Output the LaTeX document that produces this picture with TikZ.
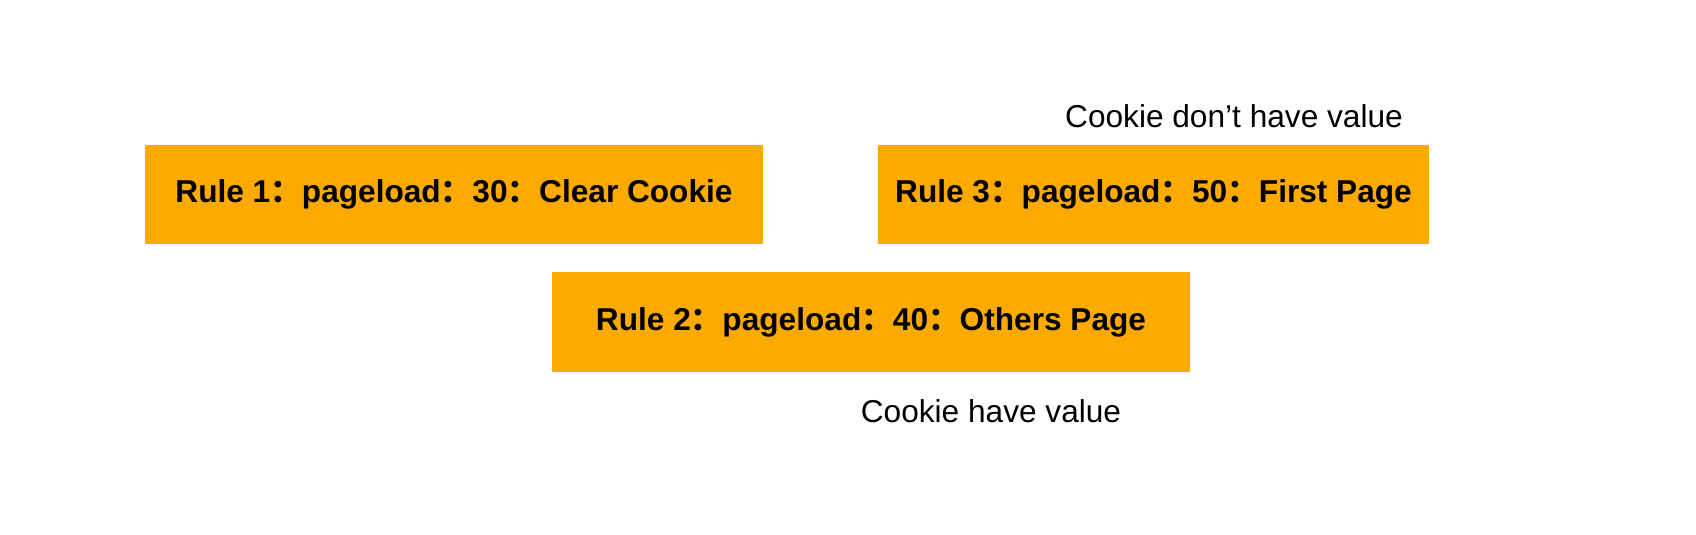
\documentclass[tikz,border=0pt]{standalone}
\usepackage{fontspec}
\setmainfont{Liberation Sans}
\newfontfamily\cjk{Noto Sans CJK SC}
\usetikzlibrary{positioning}
\newcommand{\fc}{{\cjk\bfseries ：}}
\definecolor{ruleorange}{RGB}{252,170,0}
\begin{document}
\begin{tikzpicture}[x=0.02cm,y=-0.02cm,
  rule/.style={fill=ruleorange,draw=none,inner sep=0pt,minimum height=1.99cm,
    font=\fontsize{18}{21}\selectfont\bfseries},
  note/.style={inner sep=0pt,font=\fontsize{18}{21}\selectfont}]
\useasboundingbox (0,0) rectangle (1696,534);
% rules
\node[rule,minimum width=12.36cm] (rone) at (454,194.5) {Rule 1\fc pageload\fc 30\fc Clear Cookie};
\node[rule,minimum width=11.02cm] (rthree) at (1153.5,194.5) {Rule 3\fc pageload\fc 50\fc First Page};
\node[rule,minimum width=12.76cm] (rtwo) at (871,322) {Rule 2\fc pageload\fc 40\fc Others Page};
% notes
\node[note] (nodata) at (1234,116) {Cookie don’t have value};
\node[note] (hasdata) at (991,411) {Cookie have value};
\end{tikzpicture}
\end{document}
